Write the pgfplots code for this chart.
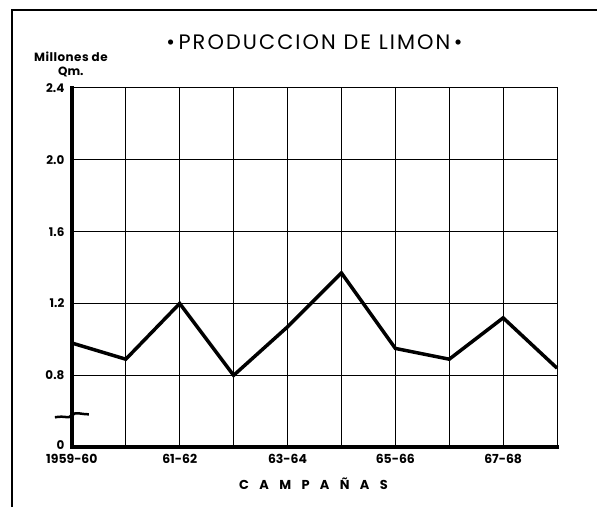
\documentclass[border=0pt]{standalone}
\usepackage{fontspec}
\setmainfont{Poppins}
\usepackage{pgfplots}
\pgfplotsset{compat=1.18}
\begin{document}
\begin{tikzpicture}
\begin{axis}[
  name=ax,
  at={(0,0)}, anchor=south west,
  scale only axis, width=486bp, height=360bp,
  xmin=0, xmax=9, ymin=0.4, ymax=2.4,
  xtick={0,...,9},
  xticklabels={1959-60,,61-62,,63-64,,65-66,,67-68,},
  ytick={0.4,0.8,1.2,1.6,2.0,2.4},
  yticklabels={\raisebox{4bp}{0},0.8,1.2,1.6,2.0,2.4},
  tick style={draw=none},
  grid=major,
  grid style={black, line width=0.8bp},
  axis line style={black, line width=1bp},
  yticklabel style={font=\fontsize{12}{14}\selectfont\bfseries, anchor=east, xshift=-4bp},
  xticklabel style={font=\fontsize{12.5}{14}\selectfont\bfseries, anchor=north, yshift=-3bp},
  /pgf/number format/assume math mode=true,
  clip=false,
]
\addplot[black, line width=3.5bp, line join=miter] coordinates {
 (0,0.98) (1,0.89) (2,1.20) (3,0.80) (4,1.07) (5,1.37) (6,0.95) (7,0.89) (8,1.12) (9,0.84)
};
\end{axis}
\draw[line width=3.6bp, line cap=rect] (ax.north west) -- (ax.south west) -- (ax.south east);
\draw[line width=2.5bp] (-17bp,30bp) .. controls (-6bp,32bp) and (-4bp,28bp) .. (0bp,32bp) .. controls (4bp,36bp) and (8bp,33bp) .. (17bp,33bp);
% frame
\draw[line width=2bp] (-60bp,-60bp) -- (-60bp,438bp) -- (526bp,438bp);
% title
\node[font=\fontsize{21}{25}\selectfont\addfontfeature{LetterSpace=10}] at (243bp,406bp) {•\,PRODUCCION DE LIMON\,•};
% y label
\node[font=\fontsize{12}{14}\selectfont\bfseries\addfontfeature{LetterSpace=4}] at (-1bp,391bp) {Millones de};
\node[font=\fontsize{12}{14}\selectfont\bfseries] at (-1bp,376bp) {Qm.};
% x label
\node[font=\fontsize{13}{15}\selectfont\bfseries] at (242bp,-37bp) {C\hspace{0.8em}A\hspace{0.8em}M\hspace{0.8em}P\hspace{0.8em}A\hspace{0.8em}Ñ\hspace{0.8em}A\hspace{0.8em}S};
\useasboundingbox (-72bp,-60bp) rectangle (526bp,448bp);
\end{tikzpicture}
\end{document}
